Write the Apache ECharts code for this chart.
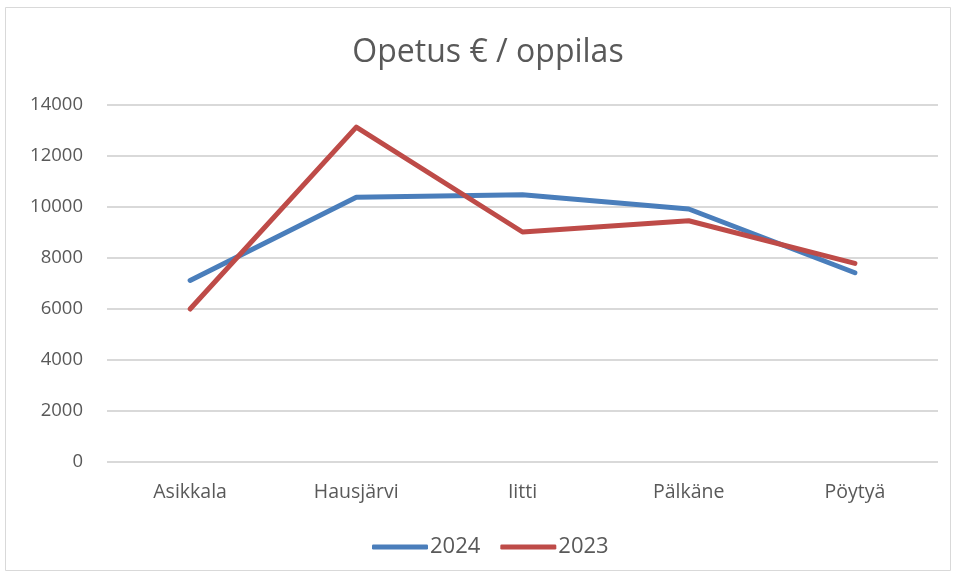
<!DOCTYPE html>
<html>
<head>
<meta charset="utf-8">
<script src="https://cdn.jsdelivr.net/npm/echarts@6/dist/echarts.min.js"></script>
<style>
html,body{margin:0;padding:0;background:#fff;}
#chart{width:957px;height:578px;}
</style>
</head>
<body>
<div id="chart"></div>
<script>
// Municipalities and teaching cost per pupil (€)
const categories = ['Asikkala', 'Hausjärvi', 'Iitti', 'Pälkäne', 'Pöytyä'];
const values2024 = [7120, 10380, 10480, 9920, 7420];
const values2023 = [6000, 13130, 9020, 9460, 7790];
const yTicks = [0, 2000, 4000, 6000, 8000, 10000, 12000, 14000];

const font = 'Open Sans';
const textColor = '#595959';

const chart = echarts.init(document.getElementById('chart'));
chart.setOption({
  animation: false,
  backgroundColor: '#fff',
  graphic: [{
    type: 'rect',
    shape: { x: 5.5, y: 7.5, width: 945, height: 563 },
    style: { fill: 'none', stroke: '#d9d9d9', lineWidth: 1 },
    silent: true
  }],
  title: {
    text: 'Opetus € / oppilas',
    left: 483,
    textAlign: 'center',
    top: 32,
    textStyle: { fontFamily: font, fontSize: 32, fontWeight: 'normal', color: textColor }
  },
  legend: {
    top: 536,
    left: 372,
    padding: 0,
    icon: 'roundRect',
    itemWidth: 56,
    itemHeight: 5,
    itemGap: 20,
    textStyle: { fontFamily: font, fontSize: 22, color: textColor, padding: [0, 0, 0, -3] },
    data: ['2024', '2023']
  },
  grid: { left: 107, right: 19, top: 105, bottom: 116 },
  xAxis: {
    type: 'category',
    data: categories,
    boundaryGap: true,
    axisLine: { show: false },
    axisTick: { show: false },
    axisLabel: { fontFamily: font, fontSize: 19.5, color: textColor, margin: 20 }
  },
  yAxis: {
    type: 'value',
    min: yTicks[0],
    max: yTicks[yTicks.length - 1],
    interval: 2000,
    axisLine: { show: false },
    axisTick: { show: false },
    axisLabel: {
      fontFamily: font, fontSize: 18.5, color: textColor, margin: 24,
      formatter: v => String(v)
    },
    splitLine: { lineStyle: { color: '#d9d9d9', width: 2 } }
  },
  series: [
    {
      name: '2024', type: 'line', data: values2024,
      symbol: 'none', color: '#4a7ebb',
      lineStyle: { width: 5, cap: 'round', join: 'round' }
    },
    {
      name: '2023', type: 'line', data: values2023,
      symbol: 'none', color: '#be4b48',
      lineStyle: { width: 5, cap: 'round', join: 'round' }
    }
  ]
});
</script>
</body>
</html>
